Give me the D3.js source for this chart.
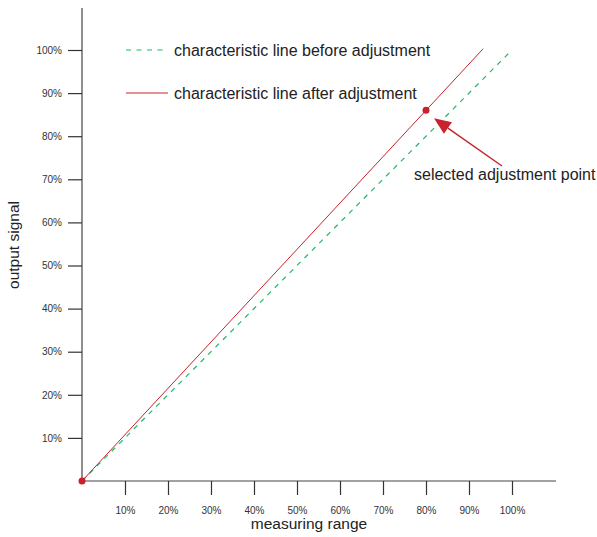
<!DOCTYPE html>
<html><head><meta charset="utf-8">
<script src="https://cdn.jsdelivr.net/npm/d3@7"></script>
<style>body{margin:0;background:#fff}svg{display:block;font-family:"Liberation Sans",Arial,sans-serif}</style>
</head><body><svg id="c" width="597" height="537"></svg>
<script>
const xTicks = [10,20,30,40,50,60,70,80,90,100];
const yTicks = [10,20,30,40,50,60,70,80,90,100];
const beforeLine = [[0,0],[100,100]];
const afterLine = [[0,0],[93.3,100.3]];
const adjPoint = [80,86];
const legendLabels = ["characteristic line before adjustment","characteristic line after adjustment"];
const annotation = "selected adjustment point";

const svg = d3.select("#c");
const x = d3.scaleLinear().domain([0,100]).range([82,512]);
const y = d3.scaleLinear().domain([0,100]).range([481,50]);
const green = "#1fb866", red = "#c8232c";

svg.append("line").attr("x1",82).attr("x2",556).attr("y1",481).attr("y2",481).attr("stroke","#444").attr("stroke-width",1.2);
svg.append("line").attr("x1",82).attr("x2",82).attr("y1",8).attr("y2",481).attr("stroke","#444").attr("stroke-width",1.2);

const xa = svg.append("g").attr("transform","translate(0,481)")
  .call(d3.axisBottom(x).tickValues(xTicks).tickSize(14).tickPadding(12).tickFormat(d=>d+"%"));
const ya = svg.append("g").attr("transform","translate(82,0)")
  .call(d3.axisLeft(y).tickValues(yTicks).tickSize(14).tickPadding(6).tickFormat(d=>d+"%"));
[xa,ya].forEach(g=>{
  g.select(".domain").remove();
  g.selectAll(".tick line").attr("stroke","#333").attr("stroke-width",1.2);
  g.selectAll(".tick text").attr("fill","#333").style("font-size","10px").style("font-family","'Liberation Sans',Arial,sans-serif");
});

const line = d3.line().x(d=>x(d[0])).y(d=>y(d[1]));
svg.append("path").attr("d",line(beforeLine)).attr("fill","none").attr("stroke",green).attr("stroke-width",1.2).attr("stroke-dasharray","5,5.5");
svg.append("path").attr("d",line(afterLine)).attr("fill","none").attr("stroke",red).attr("stroke-width",1);

svg.append("circle").attr("cx",x(0)).attr("cy",y(0)).attr("r",3.5).attr("fill",red);
svg.append("circle").attr("cx",x(adjPoint[0])).attr("cy",y(adjPoint[1])).attr("r",3.5).attr("fill",red);

const leg = [{c:green,d:"5,5.5",t:legendLabels[0],y:50},{c:red,d:null,t:legendLabels[1],y:93}];
leg.forEach(l=>{
  svg.append("line").attr("x1",126).attr("x2",168).attr("y1",l.y).attr("y2",l.y).attr("stroke",l.c).attr("stroke-width",1.2).attr("stroke-dasharray",l.d);
  svg.append("text").attr("x",174).attr("y",l.y).attr("dy","0.35em").attr("fill","#222").style("font-size","16px").text(l.t);
});

const tip = [x(adjPoint[0])+8, y(adjPoint[1])+8];
const tail = [502,166];
const ang = Math.atan2(tip[1]-tail[1], tip[0]-tail[0]);
const hl = 17, hw = 7;
const base = [tip[0]-hl*Math.cos(ang), tip[1]-hl*Math.sin(ang)];
svg.append("line").attr("x1",tail[0]).attr("y1",tail[1]).attr("x2",base[0]).attr("y2",base[1]).attr("stroke",red).attr("stroke-width",1.5);
const px = -Math.sin(ang), py = Math.cos(ang);
svg.append("path").attr("d",`M${tip[0]},${tip[1]}L${base[0]+hw*px},${base[1]+hw*py}L${base[0]-hw*px},${base[1]-hw*py}Z`).attr("fill",red);
svg.append("text").attr("x",414).attr("y",174).attr("dy","0.35em").attr("fill","#222").style("font-size","16px").text(annotation);

svg.append("text").attr("x",309).attr("y",524).attr("dy","0.35em").attr("text-anchor","middle").attr("fill","#222").style("font-size","15.5px").text("measuring range");
svg.append("text").attr("transform","translate(14,245) rotate(-90)").attr("dy","0.35em").attr("text-anchor","middle").attr("fill","#222").style("font-size","15.5px").text("output signal");
</script></body></html>
